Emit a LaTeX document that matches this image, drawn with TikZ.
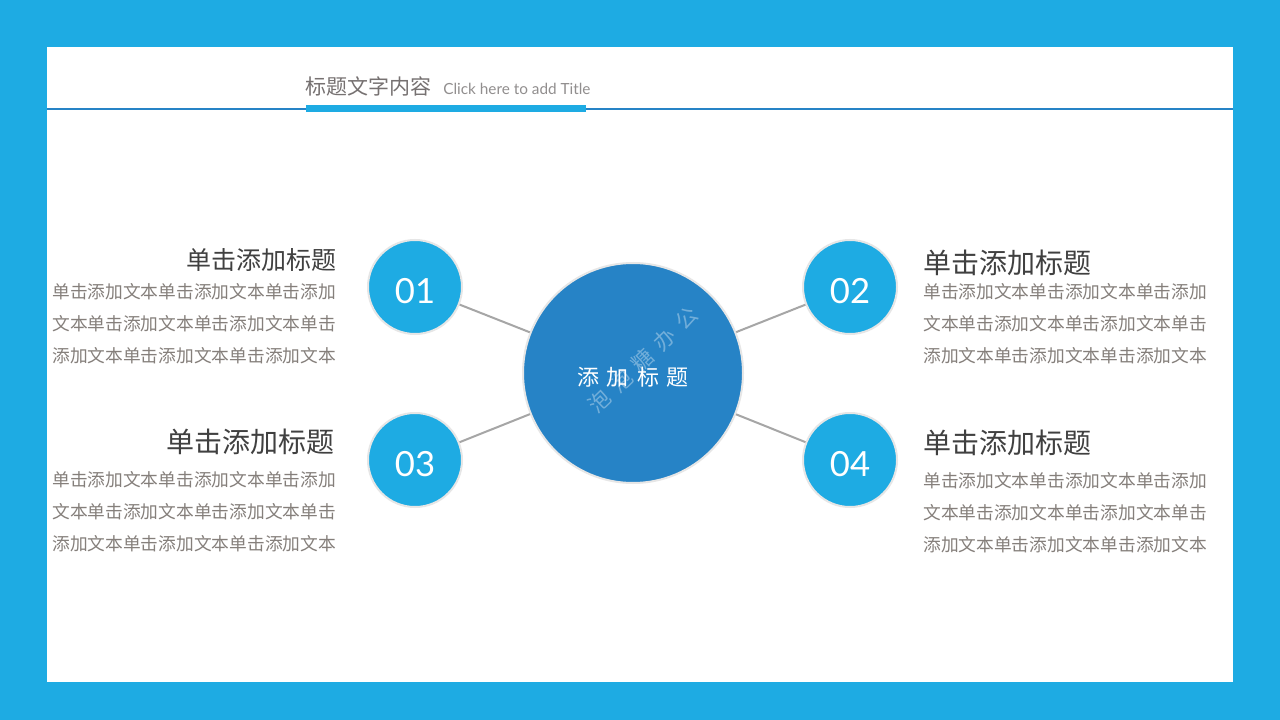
\documentclass[tikz,border=0pt]{standalone}
\usepackage{fontspec}
\newfontfamily\cjk{Noto Sans CJK SC}
\newfontfamily\numfont{Lato}
\makeatletter
\def\lsp#1#2{\def\lsp@sk{#1}\lsp@go#2\relax}
\def\lsp@go#1{\ifx#1\relax\unskip\else#1\hskip\lsp@sk\relax\expandafter\lsp@go\fi}
\makeatother
\definecolor{bgblue}{HTML}{1EABE3}
\definecolor{bigblue}{HTML}{2683C6}
\definecolor{lineblue}{HTML}{2683C6}
\definecolor{headgray}{HTML}{404040}
\definecolor{bodygray}{HTML}{857F7B}
\definecolor{titlegray}{HTML}{767171}
\definecolor{conngray}{HTML}{A6A6A6}
\definecolor{rimgray}{HTML}{E6E6E6}
\tikzset{
  smallc/.style={circle, fill=bgblue, draw=rimgray, line width=1.5pt, minimum size=70.5pt, inner sep=0pt,
    text=white, font=\numfont\fontsize{26}{26}\selectfont, text height=25pt, text depth=0pt},
  bigc/.style={circle, fill=bigblue, draw=rimgray, line width=1.5pt, minimum size=165pt, inner sep=0pt,
    text=white, font=\cjk\fontsize{16.5}{16.5}\selectfont, text height=20.5pt, text depth=2pt},
  conn/.style={draw=conngray, line width=1.5pt},
  headA/.style={inner sep=0pt, text=headgray, font=\cjk\fontsize{18.75}{18.75}\selectfont},
  headB/.style={inner sep=0pt, text=headgray, font=\cjk\fontsize{21}{21}\selectfont},
  bodytxt/.style={inner sep=0pt, text=bodygray, font=\cjk\fontsize{13.3}{13.3}\selectfont},
}
\begin{document}
\begin{tikzpicture}[x=0.75pt,y=-0.75pt]
\useasboundingbox (0,0) rectangle (1280,720);
\fill[bgblue] (0,0) rectangle (1280,720);
\fill[white] (47,47) rectangle (1233,682);
% title
\draw[lineblue, line width=0.9pt] (47,109) -- (1233,109);
\fill[bgblue] (306,105) rectangle (586,112);
\node[inner sep=0pt, anchor=base west, text=titlegray, font=\cjk\fontsize{15.75}{15.75}\selectfont] (title) at (305,95) {标题文字内容};
\node[inner sep=0pt, anchor=base west, text=titlegray!80, font=\numfont\fontsize{11.5}{11.5}\selectfont] (subtitle) at (443,95) {Click here to add Title};
% circles
\node[bigc] (center) at (633,373) {\lsp{6pt}{添加标题}};
\node[smallc] (c1) at (415,287) {01};
\node[smallc] (c2) at (850,287) {02};
\node[smallc] (c3) at (415,460) {03};
\node[smallc] (c4) at (850,460) {04};
\draw[conn] (c1) -- (center);
\draw[conn] (c2) -- (center);
\draw[conn] (c3) -- (center);
\draw[conn] (c4) -- (center);
% watermark
\node[rotate=44, text=white, opacity=0.35, inner sep=0pt, font=\cjk\fontsize{16}{16}\selectfont] (wm) at (643,360) {\lsp{6.5pt}{泡泡糖办公}};
% left top
\node[headA, anchor=base east] (h1) at (337,269) {单击添加标题};
\node[bodytxt, anchor=base west] (b1a) at (52,298) {单击添加文本单击添加文本单击添加};
\node[bodytxt, anchor=base west] (b1b) at (52,330) {文本单击添加文本单击添加文本单击};
\node[bodytxt, anchor=base west] (b1c) at (52,362) {添加文本单击添加文本单击添加文本};
% left bottom
\node[headB, anchor=base east] (h3) at (335,452) {单击添加标题};
\node[bodytxt, anchor=base west] (b3a) at (52,486) {单击添加文本单击添加文本单击添加};
\node[bodytxt, anchor=base west] (b3b) at (52,518) {文本单击添加文本单击添加文本单击};
\node[bodytxt, anchor=base west] (b3c) at (52,550) {添加文本单击添加文本单击添加文本};
% right top
\node[headB, anchor=base west] (h2) at (923,273) {单击添加标题};
\node[bodytxt, anchor=base west] (b2a) at (923,298) {单击添加文本单击添加文本单击添加};
\node[bodytxt, anchor=base west] (b2b) at (923,330) {文本单击添加文本单击添加文本单击};
\node[bodytxt, anchor=base west] (b2c) at (923,362) {添加文本单击添加文本单击添加文本};
% right bottom
\node[headB, anchor=base west] (h4) at (923,453) {单击添加标题};
\node[bodytxt, anchor=base west] (b4a) at (923,487) {单击添加文本单击添加文本单击添加};
\node[bodytxt, anchor=base west] (b4b) at (923,519) {文本单击添加文本单击添加文本单击};
\node[bodytxt, anchor=base west] (b4c) at (923,551) {添加文本单击添加文本单击添加文本};
\end{tikzpicture}
\end{document}
